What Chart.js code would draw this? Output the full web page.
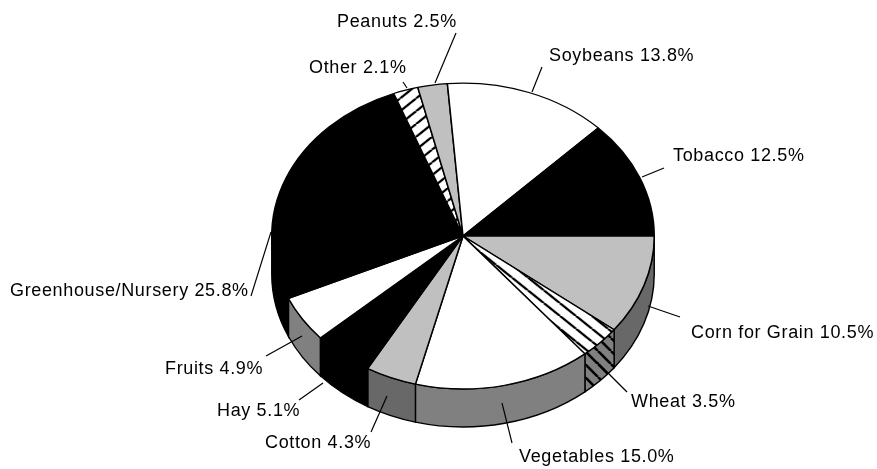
<!DOCTYPE html>
<html>
<head>
<meta charset="utf-8">
<title>Crop shares</title>
<style>
  html, body { margin: 0; padding: 0; background: #fff; }
  canvas { display: block; }
</style>
<script src="https://cdn.jsdelivr.net/npm/chart.js@4"></script>
</head>
<body>
<canvas id="myChart" width="877" height="469"></canvas>
<script>
const categories = ['Corn for Grain', 'Wheat', 'Vegetables', 'Cotton', 'Hay', 'Fruits',
  'Greenhouse/Nursery', 'Other', 'Peanuts', 'Soybeans', 'Tobacco'];
const shares = [10.5, 3.5, 15.0, 4.3, 5.1, 4.9, 25.8, 2.1, 2.5, 13.8, 12.5];

// 3d look: flatten the pie and hang a wall under the front half
const squash = 153.5 / 192;
const depth = 38;

function hatch(back, down, size) {
  const tile = document.createElement('canvas');
  tile.width = size;
  tile.height = size;
  const t = tile.getContext('2d');
  t.fillStyle = back;
  t.fillRect(0, 0, size, size);
  t.strokeStyle = '#000';
  t.lineWidth = 2.6;
  for (let i = -1; i <= 1; i++) {
    t.beginPath();
    if (down) {
      t.moveTo(i * size, 0);
      t.lineTo(i * size + size, size);
    } else {
      t.moveTo(i * size, size);
      t.lineTo(i * size + size, 0);
    }
    t.stroke();
  }
  return t.createPattern(tile, 'repeat');
}

const G = '#c0c0c0';
const topColors = [G, hatch('#fff', true, 16), '#fff', G, '#000', '#fff', '#000', hatch('#fff', false, 16), G, '#fff', '#000'];
const wallColors = ['#686868', hatch('#808080', true, 13), '#808080', '#686868', '#000', '#808080', '#000', '#808080', '#686868', '#808080', '#000'];

// label left edge + baseline, then the leader line
const labelSpots = [
  { x: 691, y: 338, line: [648, 306, 680, 317] },
  { x: 631, y: 407, line: [597, 362, 627, 392] },
  { x: 519, y: 462, line: [502, 403, 512, 443] },
  { x: 265, y: 448, line: [387, 396, 371, 432] },
  { x: 217, y: 416, line: [323, 383, 299, 400] },
  { x: 165, y: 374, line: [302, 336, 266, 356] },
  { x: 10, y: 296, line: [271, 232, 251, 296] },
  { x: 309, y: 73, line: [403, 82, 407, 88] },
  { x: 337, y: 27, line: [435, 83, 456, 33] },
  { x: 549, y: 61, line: [532, 92, 542, 67] },
  { x: 673, y: 161, line: [642, 177, 664, 168] }
];

const pie3d = {
  id: 'pie3d',
  beforeDatasetsDraw(chart) {
    const ctx = chart.ctx;
    const arcs = chart.getDatasetMeta(0).data;
    ctx.save();
    ctx.lineWidth = 1.4;
    ctx.strokeStyle = '#000';
    arcs.forEach(function (arc, i) {
      const start = Math.max(arc.startAngle, 0);
      const end = Math.min(arc.endAngle, Math.PI);
      if (end <= start) {
        return;
      }
      const rx = arc.outerRadius;
      const ry = rx * squash;
      ctx.beginPath();
      ctx.ellipse(arc.x, arc.y, rx, ry, 0, start, end);
      ctx.lineTo(arc.x + rx * Math.cos(end), arc.y + ry * Math.sin(end) + depth);
      ctx.ellipse(arc.x, arc.y + depth, rx, ry, 0, end, start, true);
      ctx.closePath();
      ctx.fillStyle = wallColors[i];
      ctx.fill();
      ctx.stroke();
    });
    ctx.restore();

    const first = arcs[0];
    ctx.save();
    ctx.translate(first.x, first.y);
    ctx.scale(1, squash);
    ctx.translate(-first.x, -first.y);
  },
  afterDatasetsDraw(chart) {
    const ctx = chart.ctx;
    ctx.restore();

    ctx.save();
    ctx.strokeStyle = '#000';
    ctx.fillStyle = '#000';
    ctx.lineWidth = 1.2;
    ctx.font = '18px "Liberation Sans"';
    ctx.letterSpacing = '0.65px';
    labelSpots.forEach(function (spot, i) {
      ctx.beginPath();
      ctx.moveTo(spot.line[0], spot.line[1]);
      ctx.lineTo(spot.line[2], spot.line[3]);
      ctx.stroke();
      ctx.fillText(categories[i] + ' ' + shares[i].toFixed(1) + '%', spot.x, spot.y);
    });
    ctx.restore();
  }
};

new Chart(document.getElementById('myChart').getContext('2d'), {
  type: 'pie',
  data: {
    labels: categories,
    datasets: [{
      data: shares,
      backgroundColor: topColors,
      borderColor: '#000',
      borderWidth: 1.5
    }]
  },
  options: {
    responsive: false,
    animation: false,
    rotation: 90,
    layout: { padding: { left: 271, right: 222, top: 44, bottom: 41 } },
    plugins: { legend: { display: false }, tooltip: { enabled: false } }
  },
  plugins: [pie3d]
});
</script>
</body>
</html>
